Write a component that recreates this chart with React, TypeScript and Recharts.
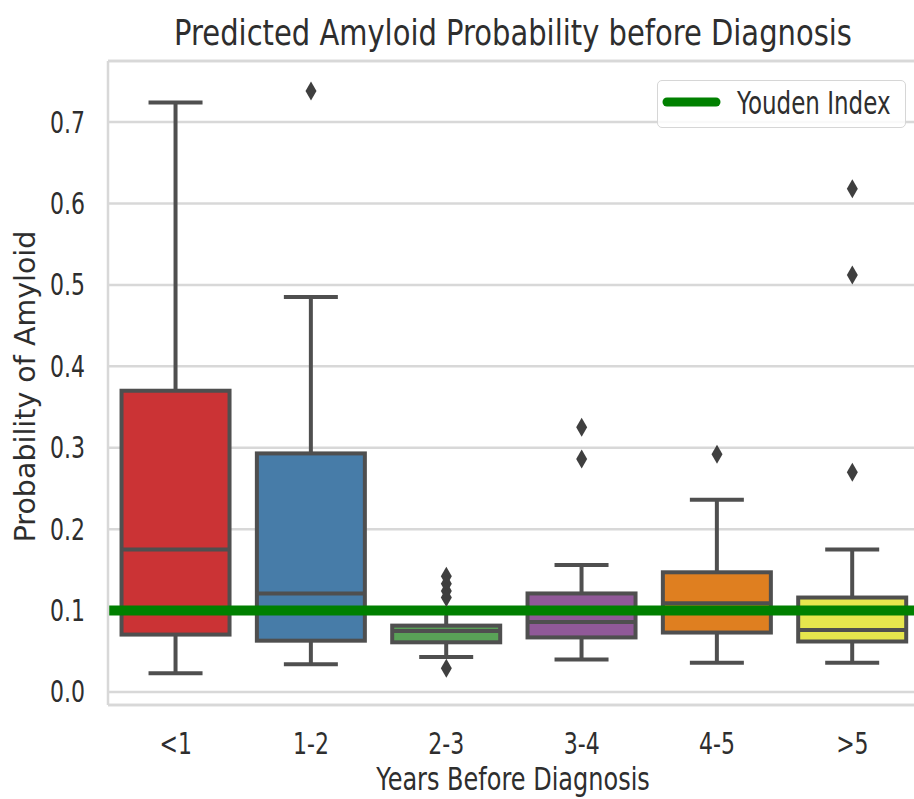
import React from "react";
import {
  Bar,
  CartesianGrid,
  ComposedChart,
  ReferenceLine,
  Scatter,
  XAxis,
  YAxis
} from "recharts";

const categories = ["<1", "1-2", "2-3", "3-4", "4-5", ">5"];
const whiskerLow = [0.023, 0.034, 0.043, 0.04, 0.036, 0.036];
const q1 = [0.0705, 0.063, 0.061, 0.067, 0.073, 0.062];
const median = [0.175, 0.121, 0.075, 0.086, 0.109, 0.076];
const q3 = [0.37, 0.293, 0.0815, 0.121, 0.147, 0.116];
const whiskerHigh = [0.724, 0.485, 0.1, 0.156, 0.236, 0.175];
const boxColors = ["#cb3335", "#477ca8", "#59a257", "#905998", "#df7f20", "#e6e64d"];

const outlierCategories = ["1-2", "2-3", "2-3", "2-3", "2-3", "2-3", "3-4", "3-4", "4-5", ">5", ">5", ">5"];
const outlierValues = [0.738, 0.142, 0.133, 0.124, 0.116, 0.029, 0.325, 0.286, 0.292, 0.618, 0.512, 0.27];

const yTicks = [0, 0.1, 0.2, 0.3, 0.4, 0.5, 0.6, 0.7];
const youdenIndex = 0.1;

const data = categories.map((name, i) => ({
  name,
  box: [q1[i], q3[i]],
  low: whiskerLow[i],
  q1: q1[i],
  median: median[i],
  q3: q3[i],
  high: whiskerHigh[i],
  color: boxColors[i]
}));

const outliers = outlierCategories.map((name, i) => ({ name, value: outlierValues[i] }));

const EDGE = "#4f4f4f";
const TEXT = "#2e2e2e";
const FONT = "DejaVu Sans, sans-serif";

function BoxShape(props: any) {
  const { x, y, width, height, payload } = props;
  const top = Math.min(y, y + height);
  const h = Math.abs(height);
  const ppu = h / (payload.q3 - payload.q1);
  const py = (v: number) => top + (payload.q3 - v) * ppu;
  const cx = x + width / 2;
  const cap = width / 4;
  return (
    <g>
      <line x1={cx} x2={cx} y1={py(payload.high)} y2={top} stroke={EDGE} strokeWidth={4} />
      <line x1={cx} x2={cx} y1={top + h} y2={py(payload.low)} stroke={EDGE} strokeWidth={4} />
      <line x1={cx - cap} x2={cx + cap} y1={py(payload.high)} y2={py(payload.high)} stroke={EDGE} strokeWidth={4} />
      <line x1={cx - cap} x2={cx + cap} y1={py(payload.low)} y2={py(payload.low)} stroke={EDGE} strokeWidth={4} />
      <rect x={x} y={top} width={width} height={h} fill={payload.color} stroke={EDGE} strokeWidth={4} />
      <line x1={x} x2={x + width} y1={py(payload.median)} y2={py(payload.median)} stroke={EDGE} strokeWidth={4} />
    </g>
  );
}

function Diamond(props: any) {
  const { cx, cy } = props;
  const w = 11;
  const h = 19;
  return (
    <path
      d={`M${cx},${cy - h / 2} L${cx + w / 2},${cy} L${cx},${cy + h / 2} L${cx - w / 2},${cy} Z`}
      fill="#3f3f3f"
    />
  );
}

function YTick(props: any) {
  const { x, y, payload } = props;
  return (
    <text
      transform={`translate(${x - 21},${y + 10.5}) scale(1,1.37)`}
      textAnchor="end"
      fontFamily={FONT}
      fontSize={22}
      fill={TEXT}
    >
      {payload.value.toFixed(1)}
    </text>
  );
}

function XTick(props: any) {
  const { x, y, payload } = props;
  return (
    <text
      transform={`translate(${x},${y + 47}) scale(1,1.37)`}
      textAnchor="middle"
      fontFamily={FONT}
      fontSize={22}
      fill={TEXT}
    >
      {payload.value}
    </text>
  );
}

export default function App() {
  return (
    <div style={{ position: "absolute", left: 0, top: 0, width: 914, height: 799, overflow: "hidden", background: "#fff" }}>
      <ComposedChart
        width={930}
        height={799}
        data={data}
        margin={{ top: 61, right: 10, bottom: 0, left: 0 }}
        barCategoryGap="10%"
      >
        <CartesianGrid vertical={false} stroke="#d8d8d8" strokeWidth={2.5} />
        <XAxis
          dataKey="name"
          type="category"
          allowDuplicatedCategory={false}
          height={94}
          tickLine={false}
          tickSize={0}
          axisLine={{ stroke: "#d8d8d8", strokeWidth: 2.5 }}
          tick={XTick}
          interval={0}
        />
        <YAxis
          width={108}
          domain={[-0.016, 0.775]}
          ticks={yTicks}
          tickLine={false}
          tickSize={0}
          axisLine={{ stroke: "#d8d8d8", strokeWidth: 2.5 }}
          tick={YTick}
        />
        <ReferenceLine y={0.775} stroke="#d8d8d8" strokeWidth={2.5} />
        <Bar dataKey="box" shape={BoxShape} isAnimationActive={false} />
        <Scatter data={outliers} dataKey="value" shape={Diamond} isAnimationActive={false} />
        <ReferenceLine y={youdenIndex} stroke="#008000" strokeWidth={10} />
      </ComposedChart>

      <svg width={914} height={799} style={{ position: "absolute", left: 0, top: 0, pointerEvents: "none" }}>
        <text
          transform="translate(513,45) scale(1,1.2)"
          textAnchor="middle"
          fontFamily={FONT}
          fontSize={29}
          fill={TEXT}
        >
          Predicted Amyloid Probability before Diagnosis
        </text>
        <text
          transform="translate(513,790) scale(1,1.3)"
          textAnchor="middle"
          fontFamily={FONT}
          fontSize={24}
          fill={TEXT}
        >
          Years Before Diagnosis
        </text>
        <text
          transform="translate(35,386.5) rotate(-90)"
          textAnchor="middle"
          fontFamily={FONT}
          fontSize={28.5}
          fill={TEXT}
        >
          Probability of Amyloid
        </text>
      </svg>

      <div
        style={{
          position: "absolute",
          left: 657,
          top: 80,
          width: 247,
          height: 46,
          border: "1.5px solid #d6d6d6",
          borderRadius: 5,
          background: "rgba(255,255,255,0.85)"
        }}
      >
        <svg width={247} height={46}>
          <line x1={9} x2={58} y1={21} y2={21} stroke="#008000" strokeWidth={9} strokeLinecap="round" />
          <text
            transform="translate(79,33) scale(1,1.39)"
            fontFamily={FONT}
            fontSize={23}
            fill={TEXT}
          >
            Youden Index
          </text>
        </svg>
      </div>
    </div>
  );
}
